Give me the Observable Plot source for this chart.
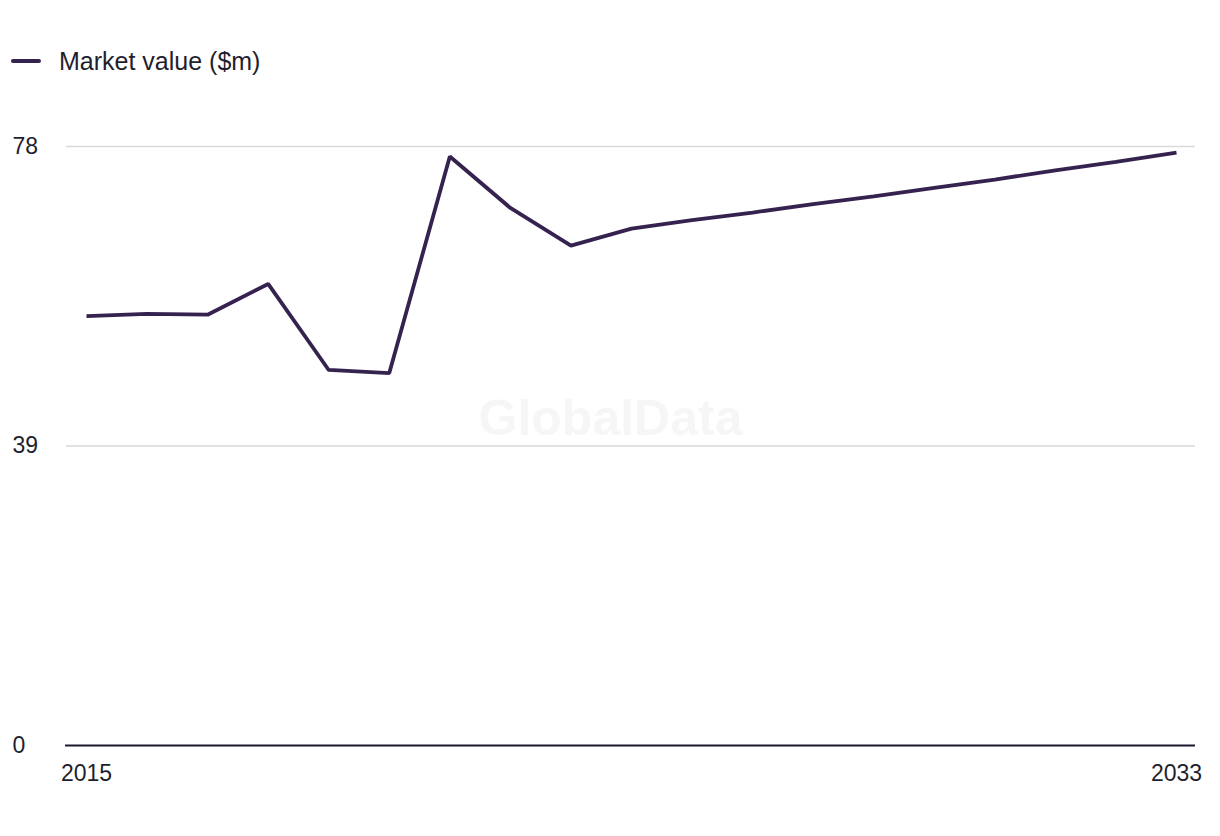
<!DOCTYPE html>
<html>
<head>
<meta charset="utf-8">
<script src="https://cdn.jsdelivr.net/npm/d3@7"></script>
<script src="https://cdn.jsdelivr.net/npm/@observablehq/plot@0.6"></script>
<style>
  html, body { margin: 0; padding: 0; background: #fff; }
  body { width: 1220px; height: 836px; overflow: hidden; font-family: "Liberation Sans", Arial, sans-serif; }
  #legend { height: 100px; position: relative; }
  #legend .swatch { position: absolute; left: 11px; top: 59px; width: 30px; height: 4px; border-radius: 2px; background: #35224f; }
  #legend .label { position: absolute; left: 59px; top: 46px; font-size: 25px; color: #1f1f2e; line-height: 30px; }
  #chart svg { display: block; }
</style>
</head>
<body>
<div id="legend"><div class="swatch"></div><div class="label">Market value ($m)</div></div>
<div id="chart"></div>
<script>
const years = [2015, 2016, 2017, 2018, 2019, 2020, 2021, 2022, 2023, 2024, 2025, 2026, 2027, 2028, 2029, 2030, 2031, 2032, 2033];
const marketValue = [55.9, 56.2, 56.1, 60.1, 48.9, 48.5, 76.7, 70.0, 65.1, 67.3, 68.4, 69.4, 70.5, 71.5, 72.6, 73.7, 74.9, 76.0, 77.2];
const yTicks = [0, 39, 78];
const xTicks = [2015, 2033];
const seriesName = "Market value ($m)";

const data = years.map((y, i) => ({year: y, value: marketValue[i], series: seriesName}));

const chart = Plot.plot({
  width: 1220,
  height: 736,
  marginLeft: 86,
  marginRight: 44,
  marginTop: 46,
  marginBottom: 91,
  style: {fontFamily: "Liberation Sans, Arial, sans-serif", fontSize: "23px", color: "#1f1f2e", background: "#fff"},
  x: {domain: [2015, 2033]},
  y: {domain: [0, 78]},
  marks: [
    Plot.text(["GlobalData"], {frameAnchor: "middle", dx: -21, dy: -27, fontSize: 50, fontWeight: "bold", fill: "#f6f6f6"}),
    Plot.ruleY(yTicks.filter(d => d > 0), {stroke: "#d9d9d9", strokeWidth: 1.5, insetLeft: -20, insetRight: -19}),
    Plot.ruleY([0], {stroke: "#1a1a2e", strokeWidth: 2, insetLeft: -21, insetRight: -19}),
    Plot.axisY({ticks: yTicks, tickSize: 0, tickPadding: 74, textAnchor: "start", label: null, fontSize: 23}),
    Plot.axisX({ticks: xTicks, tickSize: 0, tickPadding: 19, tickFormat: d3.format("d"), label: null, fontSize: 23}),
    Plot.line(data, {x: "year", y: "value", stroke: "#35224f", strokeWidth: 3.8, strokeLinejoin: "miter", strokeLinecap: "butt"})
  ]
});
document.getElementById("chart").appendChild(chart);
</script>
</body>
</html>
